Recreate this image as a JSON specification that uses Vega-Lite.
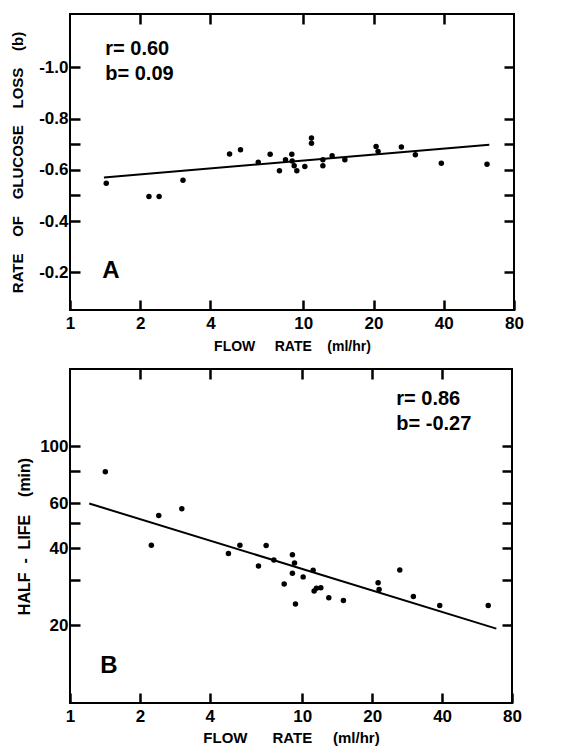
{
  "$schema": "https://vega.github.io/schema/vega-lite/v6.json",
  "background": "white",
  "padding": {"left": 9, "top": 11, "right": 5, "bottom": 5},
  "spacing": 12,
  "config": {
    "view": {"stroke": "black", "strokeWidth": 2},
    "axis": {
      "domain": false, "grid": false, "ticks": true, "zindex": 1,
      "tickColor": "black", "tickWidth": 2.5, "tickSize": 10, "offset": -10, "tickOpacity": 1,
      "labelFont": "Liberation Sans", "labelFontWeight": "bold", "labelFontSize": 17, "labelColor": "black",
      "titleFont": "Liberation Sans", "titleFontWeight": "bold", "titleColor": "black",
      "labelFlush": false, "labelOverlap": false
    },
    "text": {"font": "Liberation Sans", "fontWeight": "bold", "color": "black"}
  },
  "datasets": {
    "a_points": [
      {"flow": 1.43, "rate": -0.548}, {"flow": 2.18, "rate": -0.496}, {"flow": 2.41, "rate": -0.496},
      {"flow": 3.05, "rate": -0.559}, {"flow": 4.83, "rate": -0.662}, {"flow": 5.38, "rate": -0.678},
      {"flow": 6.41, "rate": -0.630}, {"flow": 7.21, "rate": -0.661}, {"flow": 7.90, "rate": -0.596},
      {"flow": 8.39, "rate": -0.639}, {"flow": 8.93, "rate": -0.661}, {"flow": 8.96, "rate": -0.634},
      {"flow": 9.14, "rate": -0.616}, {"flow": 9.38, "rate": -0.596}, {"flow": 10.15, "rate": -0.613},
      {"flow": 10.84, "rate": -0.724}, {"flow": 10.84, "rate": -0.704}, {"flow": 12.13, "rate": -0.639},
      {"flow": 12.13, "rate": -0.616}, {"flow": 13.29, "rate": -0.655}, {"flow": 15.07, "rate": -0.639},
      {"flow": 20.51, "rate": -0.691}, {"flow": 20.92, "rate": -0.672}, {"flow": 26.33, "rate": -0.689},
      {"flow": 30.22, "rate": -0.659}, {"flow": 39.05, "rate": -0.626}, {"flow": 61.3, "rate": -0.622}
    ],
    "a_line": [{"flow": 1.398, "rate": -0.570}, {"flow": 62.7, "rate": -0.6975}],
    "a_text": [
      {"flow": 1.416, "rate": -1.071, "label": "r= 0.60", "kind": "stat"},
      {"flow": 1.416, "rate": -0.975, "label": "b= 0.09", "kind": "stat"},
      {"flow": 1.375, "rate": -0.204, "label": "A", "kind": "panel"}
    ],
    "b_points": [
      {"flow": 1.419, "halflife": 79.6}, {"flow": 2.24, "halflife": 41.1}, {"flow": 2.41, "halflife": 53.7},
      {"flow": 3.03, "halflife": 57.0}, {"flow": 4.81, "halflife": 38.1}, {"flow": 5.39, "halflife": 41.1},
      {"flow": 6.48, "halflife": 34.1}, {"flow": 6.99, "halflife": 41.0}, {"flow": 7.55, "halflife": 36.0},
      {"flow": 8.36, "halflife": 29.0}, {"flow": 9.07, "halflife": 37.7}, {"flow": 9.26, "halflife": 35.0},
      {"flow": 9.07, "halflife": 31.9}, {"flow": 9.35, "halflife": 24.2}, {"flow": 10.09, "halflife": 30.9},
      {"flow": 11.14, "halflife": 32.8}, {"flow": 11.25, "halflife": 27.2}, {"flow": 11.51, "halflife": 27.9},
      {"flow": 12.02, "halflife": 28.0}, {"flow": 13.01, "halflife": 25.6}, {"flow": 15.04, "halflife": 25.0},
      {"flow": 21.21, "halflife": 29.3}, {"flow": 21.42, "halflife": 27.6}, {"flow": 26.3, "halflife": 32.9},
      {"flow": 30.09, "halflife": 25.9}, {"flow": 39.08, "halflife": 23.9}, {"flow": 63.2, "halflife": 23.9}
    ],
    "b_line": [{"flow": 1.21, "halflife": 59.8}, {"flow": 68.5, "halflife": 19.4}],
    "b_text": [
      {"flow": 25.4, "halflife": 152.7, "label": "r= 0.86", "kind": "stat"},
      {"flow": 25.4, "halflife": 121.9, "label": "b= -0.27", "kind": "stat"},
      {"flow": 1.35, "halflife": 13.8, "label": "B", "kind": "panel"}
    ]
  },
  "vconcat": [
    {
      "width": 444, "height": 296,
      "resolve": {"axis": {"x": "independent", "y": "independent"}},
      "layer": [
        {
          "data": {"name": "a_points"},
          "mark": {"type": "circle", "color": "black", "opacity": 1, "size": 30},
          "encoding": {
            "x": {"field": "flow", "type": "quantitative",
              "scale": {"type": "log", "domain": [1, 80], "nice": false},
              "axis": {"orient": "bottom", "values": [1, 2, 4, 10, 20, 40, 80], "format": "d",
                "title": "FLOW\u00a0\u00a0\u00a0\u00a0\u00a0RATE\u00a0\u00a0\u00a0\u00a0(ml/hr)", "titleFontSize": 14,
                "labelPadding": 5, "titlePadding": 8}},
            "y": {"field": "rate", "type": "quantitative",
              "scale": {"domain": [-1.208, -0.053], "reverse": true, "nice": false, "zero": false},
              "axis": {"orient": "left", "values": [-0.2, -0.4, -0.5, -0.6, -0.7, -0.8, -1.0],
                "labelExpr": "indexof([-0.5, -0.7], datum.value) >= 0 ? '' : '-' + format(abs(datum.value), '.1f')",
                "title": "RATE\u00a0\u00a0\u00a0\u00a0OF\u00a0\u00a0\u00a0\u00a0GLUCOSE\u00a0\u00a0\u00a0\u00a0LOSS\u00a0\u00a0\u00a0\u00a0(b)",
                "titleFontSize": 15, "labelPadding": 2, "titlePadding": 13}}
          }
        },
        {
          "data": {"name": "a_line"},
          "mark": {"type": "line", "color": "black", "strokeWidth": 2},
          "encoding": {
            "x": {"field": "flow", "type": "quantitative",
              "axis": {"orient": "top", "values": [2, 4, 10, 20, 40], "labels": false, "title": null}},
            "y": {"field": "rate", "type": "quantitative",
              "axis": {"orient": "right", "values": [-0.2, -0.4, -0.5, -0.6, -0.7, -0.8, -1.0], "labels": false, "title": null}}
          }
        },
        {
          "data": {"name": "a_text"},
          "transform": [{"filter": "datum.kind == 'stat'"}],
          "mark": {"type": "text", "align": "left", "baseline": "middle", "fontSize": 20},
          "encoding": {
            "x": {"field": "flow", "type": "quantitative", "axis": null},
            "y": {"field": "rate", "type": "quantitative", "axis": null},
            "text": {"field": "label"}
          }
        },
        {
          "data": {"name": "a_text"},
          "transform": [{"filter": "datum.kind == 'panel'"}],
          "mark": {"type": "text", "align": "left", "baseline": "middle", "fontSize": 24},
          "encoding": {
            "x": {"field": "flow", "type": "quantitative", "axis": null},
            "y": {"field": "rate", "type": "quantitative", "axis": null},
            "text": {"field": "label"}
          }
        }
      ]
    },
    {
      "width": 442, "height": 334,
      "resolve": {"axis": {"x": "independent", "y": "independent"}},
      "layer": [
        {
          "data": {"name": "b_points"},
          "mark": {"type": "circle", "color": "black", "opacity": 1, "size": 30},
          "encoding": {
            "x": {"field": "flow", "type": "quantitative",
              "scale": {"type": "log", "domain": [1, 80], "nice": false},
              "axis": {"orient": "bottom", "values": [1, 2, 4, 10, 20, 40, 80], "format": "d",
                "title": "FLOW\u00a0\u00a0\u00a0\u00a0\u00a0\u00a0RATE\u00a0\u00a0\u00a0\u00a0\u00a0(ml/hr)", "titleFontSize": 15,
                "labelPadding": 5, "titlePadding": 6}},
            "y": {"field": "halflife", "type": "quantitative",
              "scale": {"type": "log", "domain": [9.93, 200.7], "nice": false},
              "axis": {"orient": "left", "values": [20, 30, 40, 50, 60, 80, 100],
                "labelExpr": "indexof([30, 50, 80], datum.value) >= 0 ? '' : format(datum.value, 'd')",
                "title": "HALF\u00a0\u00a0-\u00a0\u00a0LIFE\u00a0\u00a0\u00a0\u00a0(min)",
                "titleFontSize": 16, "labelPadding": 2, "titlePadding": 7}}
          }
        },
        {
          "data": {"name": "b_line"},
          "mark": {"type": "line", "color": "black", "strokeWidth": 2},
          "encoding": {
            "x": {"field": "flow", "type": "quantitative",
              "axis": {"orient": "top", "values": [2, 4, 10, 20, 40], "labels": false, "title": null}},
            "y": {"field": "halflife", "type": "quantitative",
              "axis": {"orient": "right", "values": [20, 30, 40, 50, 60, 80, 100], "labels": false, "title": null}}
          }
        },
        {
          "data": {"name": "b_text"},
          "transform": [{"filter": "datum.kind == 'stat'"}],
          "mark": {"type": "text", "align": "left", "baseline": "middle", "fontSize": 20},
          "encoding": {
            "x": {"field": "flow", "type": "quantitative", "axis": null},
            "y": {"field": "halflife", "type": "quantitative", "axis": null},
            "text": {"field": "label"}
          }
        },
        {
          "data": {"name": "b_text"},
          "transform": [{"filter": "datum.kind == 'panel'"}],
          "mark": {"type": "text", "align": "left", "baseline": "middle", "fontSize": 24},
          "encoding": {
            "x": {"field": "flow", "type": "quantitative", "axis": null},
            "y": {"field": "halflife", "type": "quantitative", "axis": null},
            "text": {"field": "label"}
          }
        }
      ]
    }
  ]
}
